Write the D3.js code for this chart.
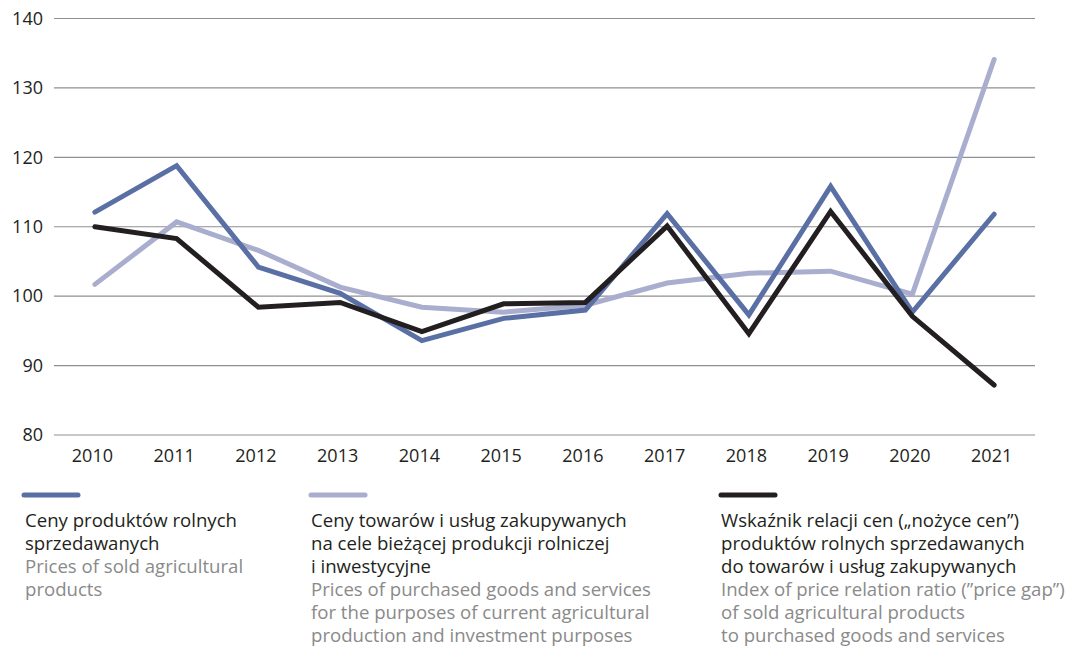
<!DOCTYPE html>
<html>
<head>
<meta charset="utf-8">
<script src="https://cdn.jsdelivr.net/npm/d3@7"></script>
<style>
html,body{margin:0;padding:0;background:#fff;}
svg{display:block;}
text{font-family:"Open Sans","Noto Sans",sans-serif;}
</style>
</head>
<body>
<svg id="chart" width="1088" height="648"></svg>
<script>
const years = ["2010","2011","2012","2013","2014","2015","2016","2017","2018","2019","2020","2021"];
const yTicks = [80,90,100,110,120,130,140];
const soldPrices = [112.1,118.8,104.2,100.4,93.6,96.8,98.0,111.9,97.3,115.8,97.7,111.8];
const purchasedPrices = [101.7,110.7,106.6,101.3,98.4,97.7,98.7,101.9,103.3,103.6,100.3,134.1];
const priceGap = [110.0,108.3,98.4,99.1,94.9,98.9,99.1,110.1,94.6,112.2,97.1,87.2];

const seriesNames = [
  {pl:["Ceny produktów rolnych","sprzedawanych"], en:["Prices of sold agricultural","products"]},
  {pl:["Ceny towarów i usług zakupywanych","na cele bieżącej produkcji rolniczej","i inwestycyjne"], en:["Prices of purchased goods and services","for the purposes of current agricultural","production and investment purposes"]},
  {pl:["Wskaźnik relacji cen („nożyce cen”)","produktów rolnych sprzedawanych","do towarów i usług zakupywanych"], en:["Index of price relation ratio (”price gap”)","of sold agricultural products","to purchased goods and services"]}
];
const colors = ["#5a6fa4","#a9aecf","#231f20"];

const svg = d3.select("#chart");
const x = d3.scalePoint().domain(years).range([54,1035]).padding(0.5);
const y = d3.scaleLinear().domain([80,140]).range([435,18.5]);

// grid
svg.append("g").selectAll("line").data(yTicks).join("line")
  .attr("x1",54).attr("x2",1035)
  .attr("y1",d=>y(d)).attr("y2",d=>y(d))
  .attr("stroke","#8f8f8f").attr("stroke-width",1.2);

// y axis labels
const yAxis = d3.axisLeft(y).tickValues(yTicks).tickSize(0).tickPadding(0);
const gy = svg.append("g").attr("transform","translate(43,0)").call(yAxis);
gy.select(".domain").remove();
gy.selectAll("text").attr("font-size",18).attr("fill","#231f20")
  .style("font-family","'Open Sans','Noto Sans',sans-serif");

// x axis labels
const xAxis = d3.axisBottom(x).tickSize(0).tickPadding(0);
const gx = svg.append("g").attr("transform","translate(-3,449)").call(xAxis);
gx.select(".domain").remove();
gx.selectAll("text").attr("font-size",18).attr("fill","#231f20")
  .style("font-family","'Open Sans','Noto Sans',sans-serif");

// lines
const line = d3.line().x((d,i)=>x(years[i])).y(d=>y(d));
const allSeries = [purchasedPrices, soldPrices, priceGap];
const allColors = [colors[1], colors[0], colors[2]];
svg.append("g").selectAll("path").data(allSeries).join("path")
  .attr("d",line)
  .attr("fill","none")
  .attr("stroke",(d,i)=>allColors[i])
  .attr("stroke-width",5)
  .attr("stroke-linejoin","miter")
  .attr("stroke-linecap","round");

// legend
const legendX = [25, 311, 721];
const swatchX = [22, 309, 719];
seriesNames.forEach((s,i)=>{
  const g = svg.append("g");
  g.append("line")
    .attr("x1",swatchX[i]+2).attr("x2",swatchX[i]+56)
    .attr("y1",495).attr("y2",495)
    .attr("stroke",colors[i]).attr("stroke-width",5).attr("stroke-linecap","round");
  const lines = s.pl.map(t=>({t,c:"#231f20"})).concat(s.en.map(t=>({t,c:"#8a8a8a"})));
  g.selectAll("text").data(lines).join("text")
    .attr("x",legendX[i])
    .attr("y",(d,j)=>527+j*22.9)
    .attr("font-size",18.6)
    .attr("fill",d=>d.c)
    .text(d=>d.t);
});
</script>
</body>
</html>
